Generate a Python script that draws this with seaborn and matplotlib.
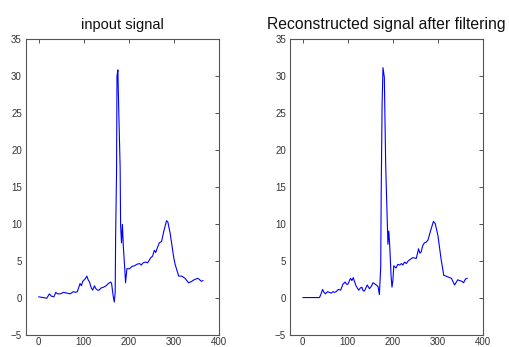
import matplotlib
matplotlib.use("Agg")
import matplotlib.pyplot as plt
import seaborn as sns
import pandas as pd

# ECG beat before filtering (sample index, amplitude)
input_x = [0, 10, 18, 24, 28, 34, 38, 42, 48, 55, 63, 70, 77, 82, 86, 92, 95,
           98, 103, 107, 110, 113, 117, 120, 124, 127, 131, 134, 139, 144, 150,
           155, 160, 162, 166, 168, 170, 171, 173, 174, 176, 177, 181, 182, 184,
           186, 188, 191, 193, 196, 202, 207, 213, 218, 224, 228, 232, 237, 242,
           246, 249, 253, 257, 260, 264, 268, 273, 278, 284, 287, 292, 300, 303,
           311, 318, 325, 333, 337, 340, 345, 349, 353, 356, 361, 365]
input_y = [0.1, 0.0, -0.1, 0.5, 0.2, 0.1, 0.7, 0.5, 0.5, 0.7, 0.6, 0.5, 0.8,
           0.7, 0.8, 1.9, 1.6, 2.2, 2.5, 2.9, 2.4, 2.1, 1.3, 1.0, 1.6, 1.2, 1.0,
           1.0, 1.3, 1.4, 1.6, 1.9, 2.1, 1.9, 0.0, -0.6, 0.7, 8.5, 16.9, 30.0,
           30.8, 27.7, 17.5, 9.8, 7.4, 9.9, 7.0, 4.1, 2.0, 3.9, 3.9, 4.2, 4.3,
           4.5, 4.6, 4.4, 4.7, 4.8, 4.7, 5.1, 5.4, 5.6, 6.4, 6.1, 6.8, 7.4, 7.6,
           9.0, 10.4, 10.2, 8.7, 5.4, 4.5, 2.9, 2.9, 2.6, 2.0, 2.1, 2.2, 2.4, 2.5,
           2.6, 2.5, 2.2, 2.3]

# Same beat reconstructed after wavelet filtering
recon_x = [0, 37, 40, 44, 47, 50, 55, 59, 63, 67, 70, 74, 79, 84, 89, 94, 97,
           100, 106, 109, 112, 118, 124, 128, 131, 134, 137, 140, 143, 148, 152,
           156, 161, 167, 170, 173, 174, 176, 178, 181, 184, 187, 189, 191, 193,
           196, 198, 200, 202, 207, 211, 215, 219, 222, 226, 230, 233, 237, 244,
           252, 257, 260, 263, 266, 270, 274, 278, 284, 290, 294, 300, 307, 313,
           318, 322, 330, 337, 340, 344, 348, 353, 357, 361, 365]
recon_y = [0.0, 0.0, 0.4, 1.1, 0.7, 0.5, 0.8, 0.7, 0.6, 0.8, 0.7, 0.8, 1.1,
           1.0, 1.8, 2.1, 1.8, 1.8, 2.6, 2.3, 2.7, 1.6, 1.0, 1.3, 1.4, 0.9, 0.9,
           1.3, 1.7, 1.2, 1.5, 2.0, 1.8, 1.5, 0.4, 4.1, 13.8, 26.0, 31.1, 29.8,
           18.0, 11.4, 7.2, 9.0, 7.0, 2.9, 1.4, 2.3, 4.3, 4.0, 4.5, 4.4, 4.6,
           4.4, 4.8, 4.6, 4.9, 5.1, 5.4, 5.3, 6.6, 6.0, 6.2, 7.0, 7.4, 7.5, 7.8,
           9.1, 10.3, 10.0, 8.4, 5.2, 3.0, 2.9, 2.8, 2.6, 1.7, 2.0, 2.4, 2.3, 2.2,
           2.0, 2.5, 2.6]

titles = ["inpout signal", "Reconstructed signal after filtering"]
title_sizes = [10.5, 11.3]
x_ticks = [0, 100, 200, 300, 400]
y_ticks = [-5, 0, 5, 10, 15, 20, 25, 30, 35]

sns.set_style("white")
plt.rcParams["font.family"] = ["Liberation Sans", "DejaVu Sans"]

fig = plt.figure(figsize=(5.10, 3.47), dpi=100)
ax_left = fig.add_axes([0.051, 0.036, 0.378, 0.852])
ax_right = fig.add_axes([0.569, 0.036, 0.378, 0.852])

panels = [
    (ax_left, pd.DataFrame({"n": input_x, "amp": input_y}), titles[0], title_sizes[0]),
    (ax_right, pd.DataFrame({"n": recon_x, "amp": recon_y}), titles[1], title_sizes[1]),
]

for ax, df, title, tsize in panels:
    sns.lineplot(data=df, x="n", y="amp", ax=ax, color="#0000ff",
                 linewidth=0.8, sort=False)
    ax.set_xlim(-28, 400)
    ax.set_ylim(-5, 35)
    ax.set_xticks(x_ticks)
    ax.set_yticks(y_ticks)
    ax.set_xlabel("")
    ax.set_ylabel("")
    ax.set_title(title, fontsize=tsize, pad=7, color="#111111")
    ax.tick_params(direction="in", length=3, width=0.6, labelsize=7,
                   colors="#333333", top=True, right=True)
    ax.tick_params(axis="x", pad=1.5)
    ax.tick_params(axis="y", pad=3)
    for spine in ax.spines.values():
        spine.set_visible(True)
        spine.set_color("#555555")
        spine.set_linewidth(0.8)

fig.savefig("out.png", dpi=100, facecolor="white")
